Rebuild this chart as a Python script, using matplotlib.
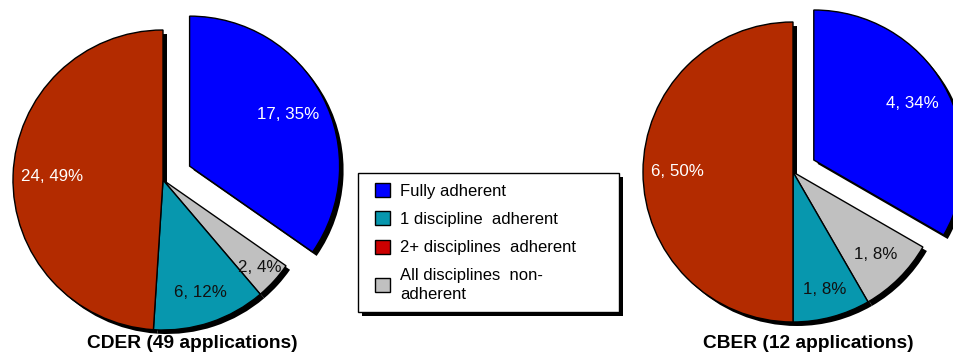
import numpy as np
import matplotlib
matplotlib.use("Agg")
import matplotlib.pyplot as plt
from matplotlib.patches import Rectangle, Patch

plt.rcParams['font.family'] = ['Liberation Sans', 'DejaVu Sans']

# categories in legend order
categories = ['Fully adherent', '1 discipline  adherent',
              '2+ disciplines  adherent', 'All disciplines  non-\nadherent']

cder_counts = [17, 6, 24, 2]
cder_pct = [35, 12, 49, 4]
cber_counts = [4, 1, 6, 1]
cber_pct = [34, 8, 50, 8]

titles = ['CDER (49 applications)', 'CBER (12 applications)']

pie_colors = ['#0000FF', '#0797AE', '#B32B00', '#C0C0C0']
legend_colors = ['#0000FF', '#0797AE', '#CC0000', '#C0C0C0']
text_colors = ['white', '#111111', 'white', '#111111']

# wedges go clockwise from 12 o'clock: fully, non-adherent, 1 discipline, 2+
wedge_order = [0, 3, 1, 2]

W, H = 954, 358
fig = plt.figure(figsize=(W / 100, H / 100), dpi=100)
ax = fig.add_axes([0, 0, 1, 1])

R = 150
SHADOW = (4, -4)


def draw_pie(center, counts, pct, explode_first, label_r, title, title_x):
    vals = [counts[i] for i in wedge_order]
    cols = [pie_colors[i] for i in wedge_order]
    explode = [explode_first, 0, 0, 0]
    # drop shadow
    ax.pie(vals, explode=explode, radius=R, startangle=90, counterclock=False,
           center=(center[0] + SHADOW[0], center[1] + SHADOW[1]),
           colors=['black'] * 4, wedgeprops=dict(linewidth=0), frame=True)
    wedges, _ = ax.pie(vals, explode=explode, radius=R, startangle=90,
                       counterclock=False, center=center, colors=cols,
                       wedgeprops=dict(edgecolor='black', linewidth=1),
                       frame=True)
    for w, idx, lr in zip(wedges, wedge_order, label_r):
        ang = np.deg2rad((w.theta1 + w.theta2) / 2)
        cx, cy = w.center
        ax.text(cx + lr * w.r * np.cos(ang), cy + lr * w.r * np.sin(ang),
                f'{counts[idx]}, {pct[idx]}%', ha='center', va='center',
                fontsize=12.2, color=text_colors[idx])
    ax.text(title_x, 14, title, ha='center', va='center',
            fontsize=13.8, fontweight='bold')


draw_pie((163, 178), cder_counts, cder_pct, 30,
         [0.74, 0.87, 0.79, 0.74], titles[0], 192)
draw_pie((793, 186), cber_counts, cber_pct, 24,
         [0.76, 0.78, 0.81, 0.77], titles[1], 808)

# legend box with shadow
bx, by, bw, bh = 358, 46, 261, 139
ax.add_patch(Rectangle((bx + 4, by - 4), bw, bh, facecolor='black',
                       edgecolor='none', zorder=5))
ax.add_patch(Rectangle((bx, by), bw, bh, facecolor='white',
                       edgecolor='black', linewidth=1, zorder=6))
handles = [Patch(facecolor=c, edgecolor='black', linewidth=1)
           for c in legend_colors]
leg = ax.legend(handles, categories, loc='upper left',
                bbox_to_anchor=((bx + 17) / W, (by + bh - 10) / H),
                frameon=False, fontsize=12, handlelength=0.9,
                handleheight=0.9, handletextpad=0.6, labelspacing=0.76,
                borderaxespad=0, borderpad=0)
for t in leg.get_texts():
    t.set_linespacing(1.35)
leg.set_zorder(7)

ax.set_xlim(0, W)
ax.set_ylim(0, H)
ax.set_aspect('auto')
ax.axis('off')

fig.savefig('out.png', dpi=100)
